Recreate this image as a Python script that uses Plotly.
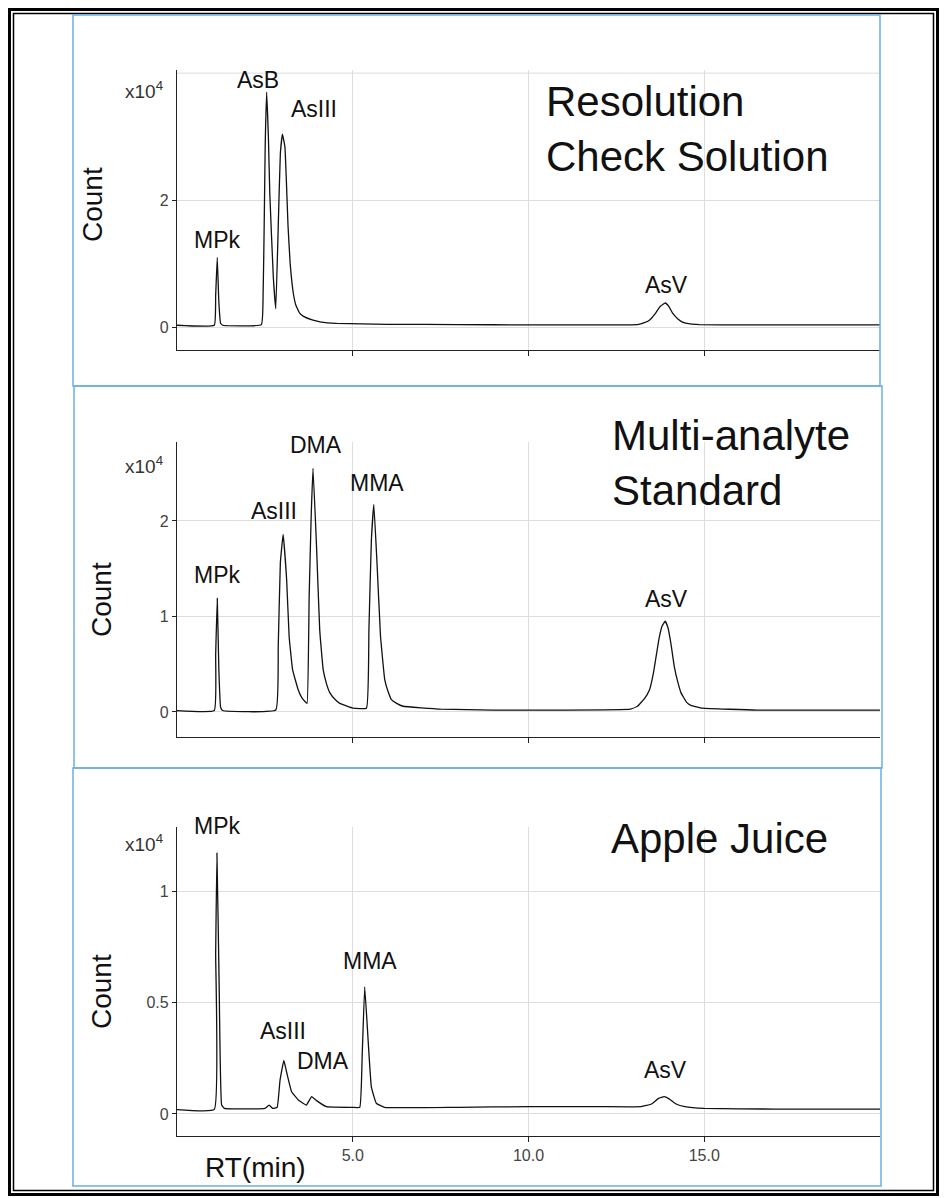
import plotly.graph_objects as go

W, H = 946, 1198

# ---------------- data (retention time in min, counts in x10^4) ----------------
rt_res = [0, 1.06, 1.10, 1.145, 1.19, 1.24, 1.30, 2.40, 2.45, 2.48, 2.51, 2.55, 2.60, 2.64,
          2.74, 2.81, 2.88, 2.94, 3.00, 3.07, 3.16, 3.22, 3.31, 3.38, 3.49, 3.6, 3.87, 4.1,
          4.54, 6.0, 8.0, 10.0, 12.0, 13.1, 13.3, 13.44, 13.6, 13.75, 13.89, 14.0, 14.1,
          14.25, 14.38, 14.6, 14.86, 16.0, 18.0, 20.0]
cnt_res = [0.03, 0.03, 0.5, 1.10, 0.4, 0.06, 0.03, 0.04, 0.53, 1.58, 2.89, 3.70, 3.0, 2.1,
           0.79, 0.29, 1.58, 2.73, 3.04, 2.84, 1.58, 1.0, 0.53, 0.35, 0.22, 0.17, 0.11, 0.08,
           0.06, 0.045, 0.04, 0.035, 0.035, 0.04, 0.07, 0.11, 0.21, 0.33, 0.38, 0.32, 0.22,
           0.13, 0.08, 0.05, 0.04, 0.035, 0.035, 0.035]

rt_std = [0, 1.06, 1.10, 1.145, 1.19, 1.24, 1.30, 2.81, 2.88, 2.94, 3.02, 3.12, 3.19, 3.29,
          3.45, 3.55, 3.64, 3.70, 3.76, 3.82, 3.87, 3.97, 4.06, 4.16, 4.25, 4.35, 4.5, 4.63,
          5.01, 5.39, 5.46, 5.53, 5.60, 5.69, 5.79, 5.85, 5.91, 6.0, 6.10, 6.25, 6.43, 7.5,
          9.0, 11.0, 12.9, 13.1, 13.3, 13.44, 13.55, 13.63, 13.72, 13.8, 13.89, 13.97, 14.05,
          14.15, 14.25, 14.34, 14.5, 14.62, 14.95, 16.5, 18.0, 20.0]
cnt_std = [0.015, 0.015, 0.6, 1.19, 0.45, 0.05, 0.015, 0.02, 0.68, 1.56, 1.86, 1.38, 0.79, 0.44,
           0.23, 0.15, 0.11, 0.09, 1.21, 2.08, 2.55, 1.73, 0.86, 0.44, 0.30, 0.20, 0.13, 0.09,
           0.04, 0.04, 0.86, 1.80, 2.17, 1.56, 0.79, 0.55, 0.34, 0.22, 0.13, 0.09, 0.06, 0.03,
           0.02, 0.02, 0.03, 0.06, 0.14, 0.23, 0.40, 0.58, 0.78, 0.90, 0.95, 0.88, 0.72,
           0.47, 0.31, 0.20, 0.10, 0.07, 0.04, 0.02, 0.02, 0.02]

rt_apple = [0, 1.06, 1.10, 1.136, 1.20, 1.27, 1.35, 2.5, 2.62, 2.72, 2.85, 2.93, 3.04, 3.13,
            3.26, 3.45, 3.68, 3.83, 3.97, 4.25, 5.0, 5.2, 5.27, 5.34, 5.43, 5.53, 5.67, 5.9,
            8.0, 10.0, 12.0, 13.2, 13.5, 13.7, 13.86, 14.0, 14.2, 14.45, 15.0, 17.0, 20.0]
cnt_apple = [0.02, 0.02, 0.72, 1.17, 0.57, 0.04, 0.025, 0.025, 0.04, 0.025, 0.03, 0.15, 0.24, 0.18,
             0.10, 0.063, 0.04, 0.078, 0.06, 0.033, 0.03, 0.03, 0.27, 0.57, 0.35, 0.12, 0.048, 0.03,
             0.03, 0.033, 0.033, 0.033, 0.045, 0.07, 0.078, 0.068, 0.045, 0.033, 0.025, 0.022, 0.022]

panel_titles = ["Resolution<br>Check Solution", "Multi-analyte<br>Standard", "Apple Juice"]
ytick_res = [0, 2]
ytick_res_text = ["0", "2"]
ygrid_res_extra = [4]
ytick_std = [0, 1, 2]
ytick_std_text = ["0", "1", "2"]
ytick_apple = [0, 0.5, 1]
ytick_apple_text = ["0", "0.5", "1"]
xtick_vals = [5, 10, 15]
xtick_text = ["5.0", "10.0", "15.0"]

peaks_res = ["MPk", "AsB", "AsIII", "AsV"]
peaks_std = ["MPk", "AsIII", "DMA", "MMA", "AsV"]
peaks_apple = ["MPk", "AsIII", "DMA", "MMA", "AsV"]

# ---------------- layout helpers ----------------
def fx(p):
    return p / W

def fy(p):
    return 1 - p / H

FONT = "Liberation Sans, Arial, sans-serif"
X0, X1 = 177, 880
panels = [  # top px, bottom px, y range
    dict(top=70, bot=350, yr=[-0.36, 4.05]),
    dict(top=442, bot=737, yr=[-0.262, 2.827]),
    dict(top=827, bot=1136, yr=[-0.0987, 1.287]),
]

fig = go.Figure()
series = [(rt_res, cnt_res), (rt_std, cnt_std), (rt_apple, cnt_apple)]
for i, (xs, ys) in enumerate(series):
    k = "" if i == 0 else str(i + 1)
    fig.add_trace(go.Scatter(x=xs, y=ys, mode="lines", xaxis="x" + k, yaxis="y" + k,
                             line=dict(color="#111111", width=1.3, shape="spline", smoothing=0.3),
                             hoverinfo="skip"))

yticks = [(ytick_res, ytick_res_text), (ytick_std, ytick_std_text), (ytick_apple, ytick_apple_text)]
lay = {}
for i, p in enumerate(panels):
    k = "" if i == 0 else str(i + 1)
    lay["xaxis" + k] = dict(
        domain=[fx(X0), fx(X1)], anchor="y" + k, range=[0, 20],
        tickvals=xtick_vals, ticktext=xtick_text, showticklabels=(i == 2),
        ticks="outside", ticklen=5, tickcolor="#222", tickwidth=1,
        showline=True, linecolor="#222", linewidth=1.2,
        showgrid=True, gridcolor="#dddddd", gridwidth=1, zeroline=False,
        tickfont=dict(family=FONT, size=16, color="#444"),
    )
    tv, tt = yticks[i]
    lay["yaxis" + k] = dict(
        domain=[fy(p["bot"]), fy(p["top"])], anchor="x" + k, range=p["yr"],
        tickvals=tv, ticktext=tt, ticks="outside", ticklen=4, tickcolor="#222", tickwidth=1,
        showline=True, linecolor="#222", linewidth=1.2,
        showgrid=True, gridcolor="#dddddd", gridwidth=1, zeroline=False,
        tickfont=dict(family=FONT, size=16, color="#444"),
    )

ann = []
def txt(text, x, y, size, xanchor="center", yanchor="middle", angle=0, color="#111"):
    ann.append(dict(text=text, x=fx(x), y=fy(y), xref="paper", yref="paper", showarrow=False,
                    xanchor=xanchor, yanchor=yanchor, textangle=angle, align="left",
                    font=dict(family=FONT, size=size, color=color)))

# panel titles
txt(panel_titles[0], 544, 129, 42, xanchor="left")
txt(panel_titles[1], 610, 463, 42, xanchor="left")
txt(panel_titles[2], 609, 838, 42, xanchor="left")

# y-axis labels and multipliers
txt("Count", 93, 205, 28, angle=-90)
txt("Count", 101, 600, 28, angle=-90)
txt("Count", 101, 992, 28, angle=-90)
for yy in [90, 465, 843]:
    txt("x10<sup>4</sup>", 165, yy, 19, xanchor="right", color="#333")
txt("RT(min)", 255, 1167, 28)

# peak labels
pos_res = [(217, 240), (258, 80), (314, 109), (666, 285)]
pos_std = [(217, 575), (274, 511), (316, 445), (377, 483), (666, 599)]
pos_apple = [(217, 826), (283, 1031), (323, 1061), (370, 961), (665, 1070)]
for names, poss in [(peaks_res, pos_res), (peaks_std, pos_std), (peaks_apple, pos_apple)]:
    for n, (x, y) in zip(names, poss):
        txt(n, x, y, 23)

shapes = []
def rect(x0, y0, x1, y1, color, width):
    shapes.append(dict(type="rect", xref="paper", yref="paper", x0=fx(x0), x1=fx(x1),
                       y0=fy(y1), y1=fy(y0), line=dict(color=color, width=width),
                       fillcolor="rgba(0,0,0,0)", layer="above"))

# extra horizontal gridline (top of first panel) without a tick label
for gv in ygrid_res_extra:
    shapes.append(dict(type="line", xref="x domain", yref="y", x0=0, x1=1, y0=gv, y1=gv,
                       line=dict(color="#dddddd", width=1), layer="below"))

# outer double frame
rect(9.5, 9.5, 937.5, 1194.5, "#000", 3)
rect(13.5, 13.5, 933.5, 1190.5, "#000", 1.5)
# blue panel boxes
BLUE = "#6aaee4"
rect(73, 15, 880, 386, BLUE, 1.5)
rect(74, 386, 882, 768, BLUE, 1.5)
rect(73, 768, 881, 1186, BLUE, 1.5)

fig.update_layout(
    width=W, height=H, margin=dict(l=0, r=0, t=0, b=0),
    paper_bgcolor="white", plot_bgcolor="white", showlegend=False,
    annotations=ann, shapes=shapes, **lay,
)
fig.write_html("out.html")
